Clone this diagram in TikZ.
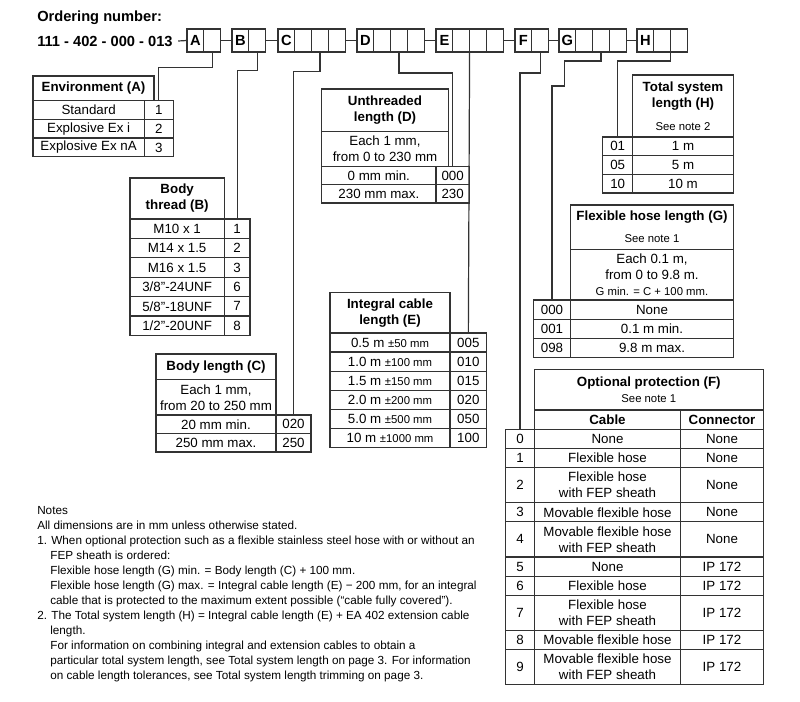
\documentclass[tikz,border=0pt]{standalone}
\usepackage{fontspec}
\setmainfont{Liberation Sans}
\usetikzlibrary{positioning}
\definecolor{cborde}{HTML}{333333}
\newcommand{\tabla}{\fontsize{10}{12}\selectfont}
\newcommand{\chica}{\fontsize{8.5}{10}\selectfont}
\newcommand{\cabecera}{\fontsize{11}{13}\selectfont\bfseries}
\newcommand{\notas}{\fontsize{8.8}{11.25}\selectfont}
\tikzset{
  ancho/.style={minimum width=#1*0.75pt},
  alto/.style={minimum height=#1*0.75pt},
  celda/.style={rectangle, draw=cborde, line width=0.9pt, inner sep=0pt,
    outer sep=0pt, align=center, font=\tabla},
  titulo/.style={celda, font=\tabla\bfseries},
  casilla/.style={celda, ancho=16.8, alto=23, font=\cabecera},
  abajo/.style={below=0pt of #1.south west, anchor=north west},
  dcha/.style={right=0pt of #1.north east, anchor=north west},
  linea/.style={draw=cborde, line width=0.9pt},
}

\begin{document}
\begin{tikzpicture}[x=0.75pt, y=-0.75pt]
  \useasboundingbox (0,0) rectangle (800,702);
  % numero de pedido
  \node[anchor=west, inner sep=0pt, font=\cabecera] (orden) at (37,18) {Ordering number:};
  \node[anchor=west, inner sep=0pt, font=\cabecera] (numero) at (37,41) {111 - 402 - 000 - 013};
  \foreach \g/\x/\n in {A/187/2,B/232/2,C/278/4,D/357/4,E/436/4,F/515/2,G/559/4,H/637/3}
    \foreach \i in {1,...,\n}
      \node[casilla] (k\g\i) at ({\x+(\i-0.5)*16.8},40.5) {\ifnum\i=1 \g\fi};
  \draw[linea] ([xshift=4pt]numero.east) -- (kA1.west);
  \draw[linea] (kA2.east) -- (kB1.west);
  \draw[linea] (kB2.east) -- (kC1.west);
  \draw[linea] (kC4.east) -- (kD1.west);
  \draw[linea] (kD4.east) -- (kE1.west);
  \draw[linea] (kE4.east) -- (kF1.west);
  \draw[linea] (kF2.east) -- (kG1.west);
  \draw[linea] (kG4.east) -- (kH1.west);

  % Environment (A)
  \begin{scope}[et/.style={celda, ancho=111.3, alto=18.8}, val/.style={celda, ancho=29, alto=18.8}]
    \node[titulo, ancho=121, alto=24.5, anchor=north west] (tA) at (33,76) {Environment (A)};
    \node[et, abajo=tA] (eA1) {Standard};
    \node[val, dcha=eA1] (vA1) {1};
    \node[et, abajo=eA1] (eA2) {Explosive Ex i};
    \node[val, dcha=eA2] (vA2) {2};
    \node[et, abajo=eA2] (eA3) {Explosive Ex nA};
    \node[val, dcha=eA3] (vA3) {3};
  \end{scope}

  % Body thread (B)
  \begin{scope}[et/.style={celda, ancho=94.3, alto=19.4}, val/.style={celda, ancho=25.7, alto=19.4}]
    \node[titulo, ancho=94.3, alto=41, anchor=north west] (tB) at (130,178) {Body\\thread (B)};
    \node[et, abajo=tB] (eB1) {M10 x 1};
    \node[val, dcha=eB1] (vB1) {1};
    \node[et, abajo=eB1] (eB2) {M14 x 1.5};
    \node[val, dcha=eB2] (vB2) {2};
    \node[et, abajo=eB2] (eB3) {M16 x 1.5};
    \node[val, dcha=eB3] (vB3) {3};
    \node[et, abajo=eB3] (eB4) {3/8"-24UNF};
    \node[val, dcha=eB4] (vB4) {6};
    \node[et, abajo=eB4] (eB5) {5/8"-18UNF};
    \node[val, dcha=eB5] (vB5) {7};
    \node[et, abajo=eB5] (eB6) {1/2"-20UNF};
    \node[val, dcha=eB6] (vB6) {8};
  \end{scope}

  % Body length (C)
  \begin{scope}[et/.style={celda, ancho=120, alto=18.5}, val/.style={celda, ancho=35, alto=18.5}]
    \node[titulo, ancho=120, alto=25.5, anchor=north west] (tC) at (156,354) {Body length (C)};
    \node[celda, ancho=120, alto=35.5, abajo=tC] (dC) {Each 1 mm,\\from 20 to 250 mm};
    \node[et, abajo=dC] (eC1) {20 mm min.};
    \node[val, dcha=eC1] (vC1) {020};
    \node[et, abajo=eC1] (eC2) {250 mm max.};
    \node[val, dcha=eC2] (vC2) {250};
  \end{scope}

  % Unthreaded length (D)
  \begin{scope}[et/.style={celda, ancho=114.3, alto=18.3}, val/.style={celda, ancho=33.3, alto=18.3}]
    \node[titulo, ancho=126.6, alto=42.5, anchor=north west] (tD) at (321.7,89) {Unthreaded\\length (D)};
    \node[celda, ancho=126.6, alto=35, abajo=tD] (dD) {Each 1 mm,\\from 0 to 230 mm};
    \node[et, abajo=dD] (eD1) {0 mm min.};
    \node[val, dcha=eD1] (vD1) {000};
    \node[et, abajo=eD1] (eD2) {230 mm max.};
    \node[val, dcha=eD2] (vD2) {230};
  \end{scope}

  % Integral cable length (E)
  \begin{scope}[et/.style={celda, ancho=120, alto=19.1}, val/.style={celda, ancho=36.7, alto=19.1}]
    \node[titulo, ancho=120, alto=40.5, anchor=north west] (tE) at (330,292.5) {Integral cable\\length (E)};
    \node[et, abajo=tE] (eE1) {0.5 m {\chica ±50 mm}};
    \node[val, dcha=eE1] (vE1) {005};
    \node[et, abajo=eE1] (eE2) {1.0 m {\chica ±100 mm}};
    \node[val, dcha=eE2] (vE2) {010};
    \node[et, abajo=eE2] (eE3) {1.5 m {\chica ±150 mm}};
    \node[val, dcha=eE3] (vE3) {015};
    \node[et, abajo=eE3] (eE4) {2.0 m {\chica ±200 mm}};
    \node[val, dcha=eE4] (vE4) {020};
    \node[et, abajo=eE4] (eE5) {5.0 m {\chica ±500 mm}};
    \node[val, dcha=eE5] (vE5) {050};
    \node[et, abajo=eE5] (eE6) {10 m {\chica ±1000 mm}};
    \node[val, dcha=eE6] (vE6) {100};
  \end{scope}

  % Total system length (H)
  \begin{scope}[et/.style={celda, ancho=100.6, alto=18.7}, val/.style={celda, ancho=30, alto=18.7}]
    \node[titulo, ancho=100.6, alto=62, anchor=north west] (tH) at (632.7,75)
      {Total system\\length (H)\\[5pt]{\mdseries\chica See note 2}};
    \node[val, anchor=north east] (vH1) at (tH.south west) {01};
    \node[et, dcha=vH1] (eH1) {1 m};
    \node[val, abajo=vH1] (vH2) {05};
    \node[et, dcha=vH2] (eH2) {5 m};
    \node[val, abajo=vH2] (vH3) {10};
    \node[et, dcha=vH3] (eH3) {10 m};
  \end{scope}

  % Flexible hose length (G)
  \begin{scope}[et/.style={celda, ancho=162.6, alto=19.2}, val/.style={celda, ancho=37.4, alto=19.2}]
    \node[titulo, ancho=162.6, alto=44.3, anchor=north west] (tG) at (570.7,205)
      {Flexible hose length (G)\\[4.5pt]{\mdseries\chica See note 1}};
    \node[celda, ancho=162.6, alto=50.7, abajo=tG] (dG)
      {Each 0.1 m,\\from 0 to 9.8 m.\\{\chica G min. = C + 100 mm.}};
    \node[val, anchor=north east] (vG1) at (dG.south west) {000};
    \node[et, dcha=vG1] (eG1) {None};
    \node[val, abajo=vG1] (vG2) {001};
    \node[et, dcha=vG2] (eG2) {0.1 m min.};
    \node[val, abajo=vG2] (vG3) {098};
    \node[et, dcha=vG3] (eG3) {9.8 m max.};
  \end{scope}

  % Optional protection (F)
  \begin{scope}[val/.style={celda, ancho=28.6, alto=19.1}, cab/.style={celda, ancho=146.4, alto=19.1},
      con/.style={celda, ancho=82.6, alto=19.1}]
    \node[titulo, ancho=229, alto=40.7, anchor=north west] (tF) at (534.3,369.3)
      {Optional protection (F)\\{\mdseries\chica See note 1}};
    \node[titulo, ancho=146.4, alto=19.3, abajo=tF] (cCab) {Cable};
    \node[titulo, ancho=82.6, alto=19.3, dcha=cCab] (cCon) {Connector};
    \node[val, anchor=north east] (vF0) at (cCab.south west) {0};
    \node[cab, dcha=vF0] (eF0) {None};
    \node[con, dcha=eF0] (nF0) {None};
    \node[val, abajo=vF0] (vF1) {1};
    \node[cab, dcha=vF1] (eF1) {Flexible hose};
    \node[con, dcha=eF1] (nF1) {None};
    \node[val, alto=35.2, abajo=vF1] (vF2) {2};
    \node[cab, alto=35.2, dcha=vF2] (eF2) {Flexible hose\\with FEP sheath};
    \node[con, alto=35.2, dcha=eF2] (nF2) {None};
    \node[val, abajo=vF2] (vF3) {3};
    \node[cab, dcha=vF3] (eF3) {Movable flexible hose};
    \node[con, dcha=eF3] (nF3) {None};
    \node[val, alto=35.2, abajo=vF3] (vF4) {4};
    \node[cab, alto=35.2, dcha=vF4] (eF4) {Movable flexible hose\\with FEP sheath};
    \node[con, alto=35.2, dcha=eF4] (nF4) {None};
    \node[val, abajo=vF4] (vF5) {5};
    \node[cab, dcha=vF5] (eF5) {None};
    \node[con, dcha=eF5] (nF5) {IP 172};
    \node[val, abajo=vF5] (vF6) {6};
    \node[cab, dcha=vF6] (eF6) {Flexible hose};
    \node[con, dcha=eF6] (nF6) {IP 172};
    \node[val, alto=35.2, abajo=vF6] (vF7) {7};
    \node[cab, alto=35.2, dcha=vF7] (eF7) {Flexible hose\\with FEP sheath};
    \node[con, alto=35.2, dcha=eF7] (nF7) {IP 172};
    \node[val, abajo=vF7] (vF8) {8};
    \node[cab, dcha=vF8] (eF8) {Movable flexible hose};
    \node[con, dcha=eF8] (nF8) {IP 172};
    \node[val, alto=35.2, abajo=vF8] (vF9) {9};
    \node[cab, alto=35.2, dcha=vF9] (eF9) {Movable flexible hose\\with FEP sheath};
    \node[con, alto=35.2, dcha=eF9] (nF9) {IP 172};
  \end{scope}

  % lineas de codigo a tablas
  \draw[linea] (kA2.south) -- ++(0,15.5) -| (vA1.north);
  \draw[linea] (kB2.south) -- ++(0,18.5) -| (vB1.north);
  \draw[linea] (kC3.south) -- ++(0,19.5) -| (vC1.north);
  \draw[linea] (kD3.south) -- ++(0,21) -| (vD1.north);
  \draw[linea] (kE2.south east) -- (vE1.north);
  \draw[linea] (kF2.south) -- ++(0,21) -| (vF0.north);
  \draw[linea] (kG3.south) -- ++(0,9) -| ++(-36.7,25) -| (vG1.north);
  \draw[linea] (kH2.south east) -- ++(0,9) -| (vH1.north);

  % notas
  \node[anchor=north west, inner sep=0pt, align=left, font=\notas] (notas) at (37,506) {Notes\\
    All dimensions are in mm unless otherwise stated.\\
    1. When optional protection such as a flexible stainless steel hose with or without an\\
    \hspace*{9.8pt}FEP sheath is ordered:\\
    \hspace*{9.8pt}Flexible hose length (G) min. = Body length (C) + 100 mm.\\
    \hspace*{9.8pt}Flexible hose length (G) max. = Integral cable length (E) − 200 mm, for an integral\\
    \hspace*{9.8pt}cable that is protected to the maximum extent possible (“cable fully covered”).\\
    2. The Total system length (H) = Integral cable length (E) + EA 402 extension cable\\
    \hspace*{9.8pt}length.\\
    \hspace*{9.8pt}For information on combining integral and extension cables to obtain a\\
    \hspace*{9.8pt}particular total system length, see Total system length on page 3. For information\\
    \hspace*{9.8pt}on cable length tolerances, see Total system length trimming on page 3.};
\end{tikzpicture}
\end{document}
